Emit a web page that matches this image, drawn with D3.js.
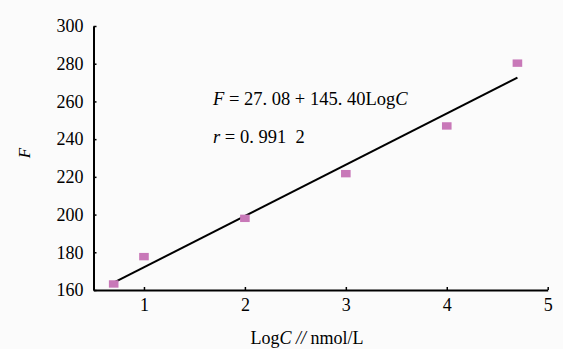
<!DOCTYPE html>
<html>
<head>
<meta charset="utf-8">
<script src="https://cdn.jsdelivr.net/npm/d3@7"></script>
<style>
    body { margin: 0; background: #fbfbfb; }
    svg { display: block; }
</style>
</head>
<body>
<div id="chart"></div>
<script>
const WIDTH = 563;
const HEIGHT = 349;
const FONT = '"Liberation Serif", "DejaVu Serif", serif';
const COLOR_POINT = '#c878b8';

// measured points (LogC, F)
const logC = [0.7, 1, 2, 3, 4, 4.7];
const fValues = [163.2, 177.7, 198, 221.7, 247, 280.3];

// fitted line end points, as drawn
const fitX = [0.7, 4.7];
const fitY = [163.9, 272.6];

const xTicks = [1, 2, 3, 4, 5];
const yTicks = [160, 180, 200, 220, 240, 260, 280, 300];

const svg = d3.select('#chart')
    .append('svg')
    .attr('width', WIDTH)
    .attr('height', HEIGHT)
    .attr('font-family', FONT);

const x = d3.scaleLinear()
    .domain([0.5, 5])
    .range([93.5, 547.7]);

const y = d3.scaleLinear()
    .domain([160, 300])
    .range([290, 26]);

// axes
const xAxis = svg.append('g')
    .attr('transform', `translate(0,${y(160)})`)
    .call(d3.axisBottom(x).tickValues(xTicks).tickFormat(d3.format('d'))
        .tickSize(-3).tickPadding(8).tickSizeOuter(0));

const yAxis = svg.append('g')
    .attr('transform', `translate(${x(0.5)},0)`)
    .call(d3.axisLeft(y).tickValues(yTicks).tickFormat(d3.format('d'))
        .tickSize(-3).tickPadding(10).tickSizeOuter(0));

[xAxis, yAxis].forEach(g => {
    g.attr('font-family', FONT);
    g.select('.domain').attr('stroke', '#000').attr('stroke-width', 2);
    g.selectAll('.tick line').attr('stroke', '#000').attr('stroke-width', 1.5);
    g.selectAll('.tick text')
        .attr('fill', '#000')
        .style('font-family', FONT)
        .style('font-size', '18px');
});

// fitted line
const fit = fitX.map((v, i) => ({ x: v, y: fitY[i] }));
svg.append('path')
    .datum(fit)
    .attr('fill', 'none')
    .attr('stroke', '#000')
    .attr('stroke-width', 2)
    .attr('d', d3.line().x(d => x(d.x)).y(d => y(d.y)));

// points
const points = logC.map((v, i) => ({ x: v, y: fValues[i] }));
svg.append('g')
    .selectAll('rect')
    .data(points)
    .join('rect')
    .attr('x', d => x(d.x) - 4.8)
    .attr('y', d => y(d.y) - 3.7)
    .attr('width', 9.6)
    .attr('height', 7.4)
    .attr('fill', COLOR_POINT);

// equation
const eq = svg.append('text')
    .attr('x', 213)
    .attr('y', 105)
    .style('font-family', FONT)
    .style('font-size', '18.5px');
eq.append('tspan').style('font-style', 'italic').text('F');
eq.append('tspan').text(' = 27. 08 + 145. 40Log');
eq.append('tspan').style('font-style', 'italic').text('C');

const rText = svg.append('text')
    .attr('x', 213)
    .attr('y', 143)
    .attr('xml:space', 'preserve')
    .style('font-family', FONT)
    .style('font-size', '18.5px');
rText.append('tspan').style('font-style', 'italic').text('r');
rText.append('tspan').text(' = 0. 991  2');

// axis titles
const xTitle = svg.append('text')
    .attr('x', 307)
    .attr('y', 344)
    .style('text-anchor', 'middle')
    .style('font-family', FONT)
    .style('font-size', '18px');
xTitle.append('tspan').text('Log');
xTitle.append('tspan').style('font-style', 'italic').text('C');
xTitle.append('tspan').style('font-style', 'italic').text(' // ');
xTitle.append('tspan').text('nmol/L');

svg.append('text')
    .attr('transform', 'translate(30,153) rotate(-90)')
    .style('text-anchor', 'middle')
    .style('font-family', FONT)
    .style('font-size', '17px')
    .style('font-style', 'italic')
    .text('F');
</script>
</body>
</html>
